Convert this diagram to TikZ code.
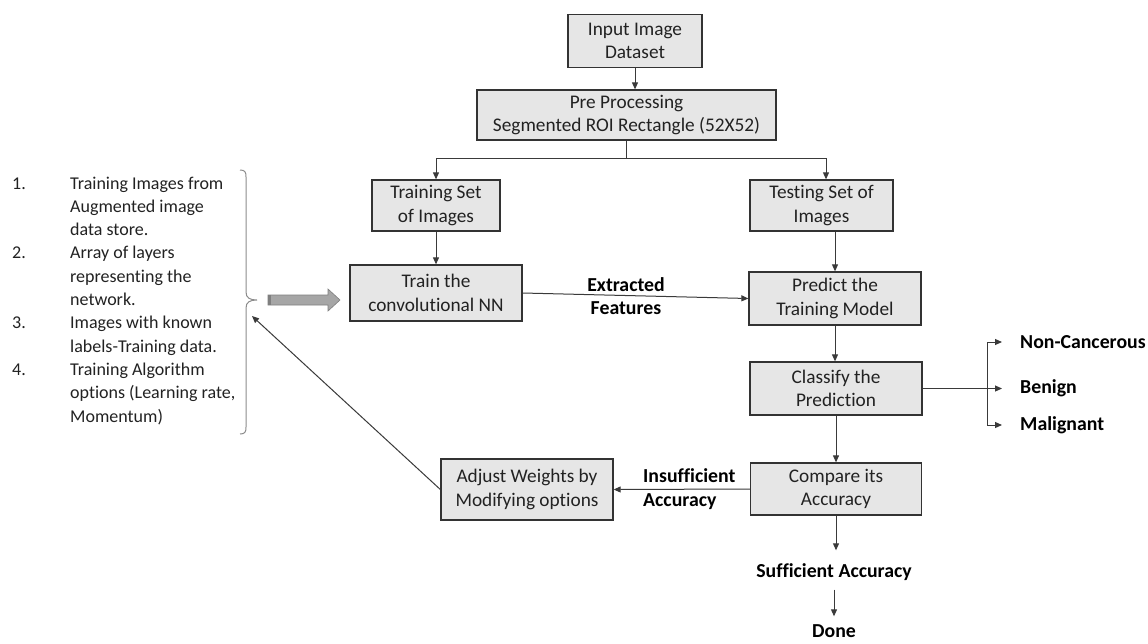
\documentclass[tikz,border=0pt]{standalone}
\usepackage{fontspec}
\setmainfont{Carlito}[Ligatures=NoCommon]
\usetikzlibrary{arrows.meta,calc}
\definecolor{boxfill}{HTML}{E6E6E6}
\definecolor{boxline}{HTML}{333333}
\definecolor{linec}{HTML}{3A3A3A}
\definecolor{txt}{HTML}{222222}
\definecolor{bracec}{HTML}{8C8C8C}
\definecolor{garrowfill}{HTML}{A6A6A6}
\definecolor{garrowline}{HTML}{7F7F7F}
\begin{document}
\begin{tikzpicture}[x=1pt,y=-1pt,
 box/.style={draw=boxline,fill=boxfill,line width=1.3pt,align=center,inner sep=0pt,text=txt,font=\fontsize{19.3}{23.3}\selectfont},
 lbl/.style={font=\fontsize{19.8}{23.3}\selectfont\bfseries,text=black,inner sep=0pt},
 txtl/.style={font=\fontsize{18}{23.3}\selectfont,text=txt,inner sep=0pt,anchor=base west},
 conn/.style={draw=linec,line width=1pt,-{Triangle[length=7pt,width=6pt]}},
 plain/.style={draw=linec,line width=1pt}]
\useasboundingbox (0,0) rectangle (1148,643);
\fill[white] (0,0) rectangle (1148,643);

% boxes
\node[box,minimum width=134pt,minimum height=53pt] (inp) at (635,41) {Input Image\\Dataset};
\node[box,minimum width=299pt,minimum height=50pt] (pre) at (626.5,115) {Pre Processing\\Segmented ROI Rectangle (52X52)};
\node[box,minimum width=128pt,minimum height=51pt] (trset) at (436,205.5) {Training Set\\of Images};
\node[box,minimum width=143pt,minimum height=51pt] (teset) at (821.5,205.5) {Testing Set of\\Images};
\node[box,minimum width=172pt,minimum height=56pt] (train) at (436,293) {Train the\\convolutional NN};
\node[box,minimum width=172pt,minimum height=53pt] (pred) at (835,298.5) {Predict the\\Training Model};
\node[box,minimum width=172pt,minimum height=53pt] (clas) at (836,388.5) {Classify the\\Prediction};
\node[box,minimum width=171pt,minimum height=52pt] (comp) at (836,489) {Compare its\\Accuracy};
\node[box,minimum width=172pt,minimum height=61pt] (adj) at (527,489.5) {Adjust Weights by\\Modifying options};

% labels
\node[lbl,align=center] (ef) at (626,296) {Extracted\\Features};
\node[lbl,align=left,anchor=west] (ins) at (643,489) {Insufficient\\Accuracy};
\node[lbl] (suf) at (834,572) {Sufficient Accuracy};
\node[lbl] (done) at (834,631) {Done};
\node[lbl,anchor=west] (nc) at (1020,342) {Non-Cancerous};
\node[lbl,anchor=west] (ben) at (1020,388.5) {Benign};
\node[lbl,anchor=west] (mal) at (1020,425) {Malignant};

% left list
\node[txtl] (n1) at (12,189) {1.};
\node[txtl] (l1) at (70,189) {Training Images from};
\node[txtl] (l2) at (70,212.3) {Augmented image};
\node[txtl] (l3) at (70,235.6) {data store.};
\node[txtl] (n2) at (12,258.9) {2.};
\node[txtl] (l4) at (70,258.9) {Array of layers};
\node[txtl] (l5) at (70,282.2) {representing the};
\node[txtl] (l6) at (70,305.5) {network.};
\node[txtl] (n3) at (12,328.8) {3.};
\node[txtl] (l7) at (70,328.8) {Images with known};
\node[txtl] (l8) at (70,352.1) {labels-Training data.};
\node[txtl] (n4) at (12,375.4) {4.};
\node[txtl] (l9) at (70,375.4) {Training Algorithm};
\node[txtl] (l10) at (70,398.7) {options (Learning rate,};
\node[txtl] (l11) at (70,422) {Momentum)};

% brace
\draw[bracec,line width=1pt] (240,170) .. controls (245,170) and (246,172) .. (246,177) -- (246,292)
  .. controls (246,298) and (250,300) .. (257,300) .. controls (250,300) and (246,302) .. (246,308)
  -- (246,427) .. controls (246,432) and (245,434) .. (240,434);

% gray block arrow
\draw[fill=garrowfill,draw=garrowline,line width=0.6pt] (268,295) -- (328,295) -- (328,289) -- (340,300) -- (328,311) -- (328,305) -- (268,305) -- cycle;
\fill[garrowline] (268,295) rectangle (271,305);

% connectors
\draw[conn] (inp.south) -- (inp.south |- pre.north);
\coordinate (spl) at (436,158);
\coordinate (spr) at (826,158);
\coordinate (spm) at (626.5,158);
\draw[plain] (pre.south) -- (spm);
\draw[plain] (spl) -- (spr);
\draw[conn] (spl) -- (spl |- trset.north);
\draw[conn] (spr) -- (spr |- teset.north);
\draw[conn] (trset.south) -- (train.north);
\draw[conn] (teset.south -| pred.north) -- (pred.north);
\draw[conn] (train.east) -- (pred.west);
\draw[conn] (pred.south) -- (pred.south |- clas.north);
\draw[conn] (clas.south) -- (comp.north);
\draw[conn,shorten >=18pt] (clas.east) -- (ben.west);
\coordinate (brt) at (987,342);
\coordinate (brb) at (987,425);
\draw[plain] (brt) -- (brb);
\draw[conn,shorten >=18pt] (brt) -- (nc.west);
\draw[conn,shorten >=18pt] (brb) -- (mal.west);
\draw[conn] (comp.west) -- (adj.east);
\draw[conn,shorten >=13pt] (comp.south) -- (comp.south |- suf.north);
\draw[conn,shorten <=9pt,shorten >=8pt] (suf.south) -- (done.north);
\coordinate (btip) at (252,316);
\draw[conn] (adj.west) -- (btip);
\end{tikzpicture}
\end{document}
